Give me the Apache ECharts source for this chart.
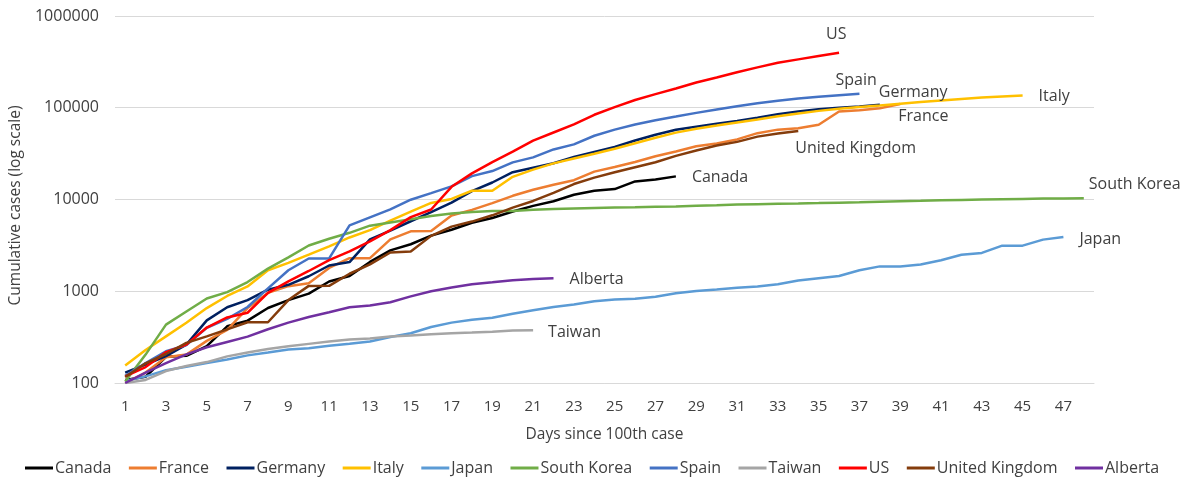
<!DOCTYPE html>
<html>
<head>
<meta charset="utf-8">
<script src="https://cdn.jsdelivr.net/npm/echarts@6/dist/echarts.min.js"></script>
<style>
  html, body { margin: 0; padding: 0; background: #fff; }
  #chart { width: 1186px; height: 479px; }
</style>
</head>
<body>
<div id="chart"></div>
<script>
// days since 100th case
const days = ['1', '2', '3', '4', '5', '6', '7', '8', '9', '10', '11', '12', '13', '14', '15', '16',
  '17', '18', '19', '20', '21', '22', '23', '24', '25', '26', '27', '28', '29', '30', '31', '32',
  '33', '34', '35', '36', '37', '38', '39', '40', '41', '42', '43', '44', '45', '46', '47', '48']

// cumulative cases per country / province
const canada = [108, 117, 193, 198, 252, 415, 478, 657, 800, 943, 1277, 1469, 2088, 2790, 3251, 4042,
  4682, 5576, 6280, 7398, 8527, 9560, 11284, 12437, 12978, 15756, 16563, 17872]
const france = [100, 130, 191, 204, 288, 380, 656, 959, 1136, 1219, 1794, 2293, 2293, 3681, 4496, 4532,
  6683, 7715, 9124, 10970, 12758, 14463, 16243, 20123, 22622, 25600, 29551, 33402, 38105, 40708,
  45170, 52827, 57749, 59929, 65202, 90848, 93773, 98963, 110065]
const germany = [130, 159, 196, 262, 482, 670, 799, 1040, 1176, 1457, 1908, 2078, 3675, 4585, 5795, 7272,
  9257, 12327, 15320, 19848, 22213, 24873, 29056, 32986, 37323, 43938, 50871, 57695, 62095, 66885,
  71808, 77872, 84794, 91159, 96092, 100123, 103374, 107663]
const italy = [155, 229, 322, 453, 655, 888, 1128, 1694, 2036, 2502, 3089, 3858, 4636, 5883, 7375, 9172,
  10149, 12462, 12462, 17660, 21157, 24747, 27980, 31506, 35713, 41035, 47021, 53578, 59138, 63927,
  69176, 74386, 80589, 86498, 92472, 97689, 101739, 105792, 110574, 115242, 119827, 124632, 128948,
  132547, 135586]
const japan = [105, 118, 138, 150, 165, 180, 200, 215, 232, 239, 254, 268, 284, 317, 349, 408, 455, 488,
  514, 568, 620, 675, 716, 780, 814, 829, 873, 950, 1007, 1046, 1089, 1128, 1193, 1307, 1387, 1468,
  1693, 1866, 1866, 1953, 2178, 2495, 2617, 3139, 3139, 3654, 3906]
const southKorea = [104, 204, 433, 602, 833, 977, 1261, 1766, 2337, 3150, 3736, 4335, 5186, 5621, 6088,
  6593, 7041, 7314, 7478, 7513, 7755, 7869, 7979, 8086, 8162, 8236, 8320, 8413, 8565, 8652, 8799,
  8897, 8961, 9037, 9137, 9241, 9332, 9478, 9583, 9661, 9786, 9887, 9976, 10062, 10156, 10237,
  10284, 10331]
const spain = [120, 165, 222, 259, 400, 500, 673, 1073, 1695, 2277, 2277, 5232, 6391, 7798, 9942, 11748,
  13910, 17963, 20410, 25374, 28768, 35136, 39885, 49515, 57786, 65719, 73235, 80110, 87956, 95923,
  104118, 112065, 119199, 126168, 131646, 136675, 141942]
const taiwan = [100, 108, 135, 153, 169, 195, 215, 235, 252, 267, 283, 298, 306, 322, 329, 339, 348, 355,
  363, 373, 376]
const us = [118, 149, 217, 262, 402, 518, 583, 959, 1281, 1663, 2179, 2727, 3499, 4632, 6421, 7783,
  13747, 19273, 25600, 33276, 43847, 53740, 65778, 83836, 101657, 121465, 140909, 161831, 188172,
  213242, 243622, 275367, 308650, 336802, 366317, 397121]
const uk = [116, 164, 207, 274, 322, 384, 459, 459, 802, 1144, 1145, 1551, 1960, 2642, 2716, 4014, 5067,
  5745, 6726, 8164, 9640, 11812, 14745, 17312, 19780, 22453, 25481, 29865, 34173, 38689, 42477,
  48436, 52279, 55949]
const alberta = [100, 130, 165, 205, 245, 280, 320, 385, 455, 525, 590, 670, 700, 760, 880, 1000, 1100,
  1190, 1250, 1320, 1360, 1390]

const FONT = '"Open Sans", sans-serif'
const TXT = '#404040'

// name, data, colour, end label offset
const lines = [
  ['Canada', canada, '#000000', [8, 1]],
  ['France', france, '#ED7D31', [-10, 13]],
  ['Germany', germany, '#002060', [-9, -12]],
  ['Italy', italy, '#FFC000', [8, 1]],
  ['Japan', japan, '#5B9BD5', [8, 2]],
  ['South Korea', southKorea, '#70AD47', [-3, -14]],
  ['Spain', spain, '#4472C4', [-32, -13]],
  ['Taiwan', taiwan, '#A5A5A5', [7, 2]],
  ['US', us, '#FF0000', [-21, -18]],
  ['United Kingdom', uk, '#843C0C', [-11, 18]],
  ['Alberta', alberta, '#7030A0', [8, 1]]
]

const chart = echarts.init(document.getElementById('chart'))

const option = {
  animation: false,
  backgroundColor: '#fff',
  textStyle: { fontFamily: FONT },
  grid: { left: 115, right: 92, top: 16, bottom: 96, outerBoundsMode: 'none', containLabel: false },
  legend: {
    top: 455,
    left: 20,
    icon: 'rect',
    itemWidth: 28,
    itemHeight: 3,
    itemGap: 17.5,
    textStyle: { fontFamily: FONT, fontSize: 16, color: TXT, padding: [0, 0, 0, -3] },
    data: lines.map(l => l[0])
  },
  xAxis: {
    type: 'category',
    data: days,
    boundaryGap: true,
    name: 'Days since 100th case',
    nameLocation: 'middle',
    nameGap: 44,
    nameTextStyle: { fontFamily: FONT, fontSize: 15.5, color: TXT },
    axisLine: { lineStyle: { color: '#d9d9d9', width: 1 } },
    axisTick: { show: false },
    axisLabel: { interval: 1, margin: 16, fontFamily: FONT, fontSize: 15, color: TXT }
  },
  yAxis: {
    type: 'log',
    logBase: 10,
    min: 100,
    max: 1000000,
    name: 'Cumulative cases (log scale)',
    nameLocation: 'middle',
    nameGap: 88,
    nameTextStyle: { fontFamily: FONT, fontSize: 15.5, color: TXT, padding: [0, 0, 0, -12] },
    axisLine: { show: false },
    axisTick: { show: false },
    axisLabel: { margin: 16, fontFamily: FONT, fontSize: 16, color: TXT, formatter: v => String(Math.round(v)) },
    splitLine: { lineStyle: { color: '#d9d9d9', width: 1 } }
  },
  series: lines.map(([name, data, color, offset]) => ({
    name: name,
    type: 'line',
    data: data,
    symbol: 'none',
    color: color,
    lineStyle: { color: color, width: 2.5 },
    endLabel: {
      show: true,
      formatter: name,
      offset: offset,
      fontFamily: FONT,
      fontSize: 16,
      color: TXT
    }
  }))
}

chart.setOption(option)
</script>
</body>
</html>
